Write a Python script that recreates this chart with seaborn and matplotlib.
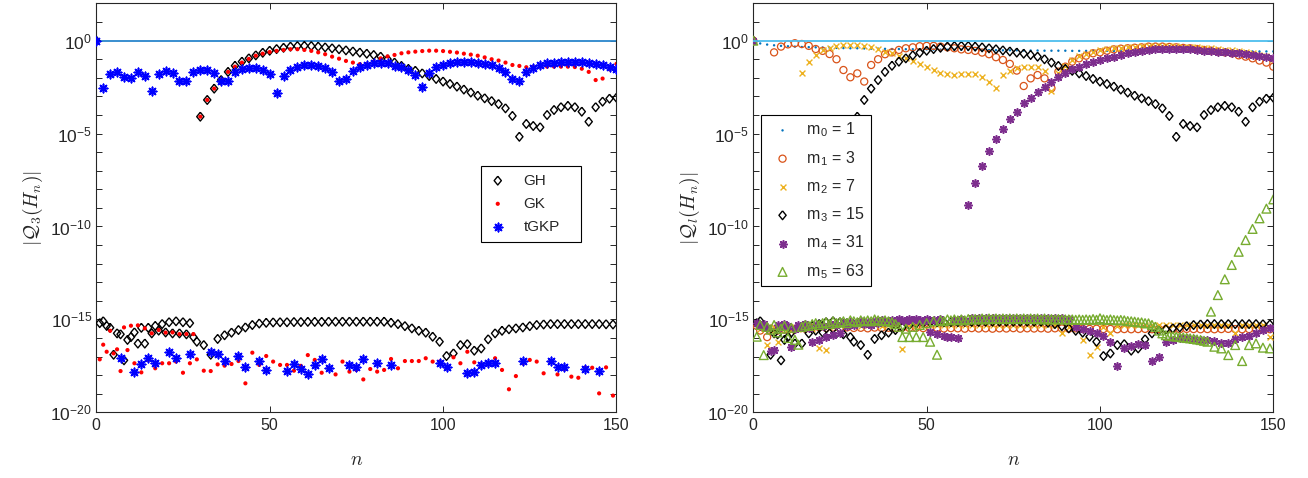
import numpy as np
import matplotlib
matplotlib.use("Agg")
import matplotlib.pyplot as plt
from matplotlib.ticker import FixedLocator, FuncFormatter, NullLocator
import seaborn as sns

nan = float("nan")

# ---------------------------------------------------------------
# log10 |Q(H_n)| for n = 0..150 (nan = exact zero, not drawable)
# ---------------------------------------------------------------
N = np.arange(151)

GH_LOG = [
    0.00, -15.20, -15.10, -15.35, -15.45, -16.90, -15.75, -15.80, -17.20, -16.10,
    -15.95, -15.70, -16.30, -15.45, -16.30, -15.45, -15.75, -15.35, -15.60, -15.25,
    -15.70, -15.15, -15.75, -15.10, -15.75, -15.15, -15.80, -15.20, -15.95, -16.20,
    -4.09, -16.38, -3.19, -16.90, -2.58, -16.05, -2.12, -15.85, -1.68, -15.71,
    -1.35, -15.57, -1.13, -15.43, -0.95, -15.30, -0.79, -15.22, -0.65, -15.18,
    -0.54, -15.16, -0.45, -15.15, -0.38, -15.15, -0.32, -15.14, -0.29, -15.14,
    -0.28, -15.13, -0.29, -15.13, -0.32, -15.13, -0.36, -15.12, -0.41, -15.12,
    -0.46, -15.12, -0.52, -15.12, -0.58, -15.12, -0.64, -15.12, -0.70, -15.12,
    -0.77, -15.12, -0.86, -15.12, -1.00, -15.18, -1.18, -15.25, -1.36, -15.36,
    -1.52, -15.48, -1.62, -15.61, -1.76, -15.71, -1.90, -15.93, -2.06, -16.20,
    -2.20, -16.97, -2.33, -16.83, -2.47, -16.38, -2.63, -16.33, -2.79, -16.68,
    -2.96, -16.56, -3.10, -16.07, -3.25, -15.75, -3.41, -15.61, -3.64, -15.53,
    -4.05, -15.48, -5.17, -15.43, -4.48, -15.36, -4.59, -15.30, -4.66, -15.27,
    -4.00, -15.25, -3.73, -15.25, -3.58, -15.25, -3.51, -15.25, -3.58, -15.25,
    -3.82, -15.25, -4.36, -15.25, -3.58, -15.25, -3.28, -15.26, -3.12, -15.27,
    -3.07]

GK_LOG = [
    0.00, -17.15, -16.36, -16.74, -15.61, -16.83, -16.61, -17.78, -15.43, -16.65,
    -15.34, -17.36, -15.32, -17.85, -15.48, -17.18, -15.75, -17.63, -15.57, -17.36,
    -15.71, -17.36, -15.70, -17.27, -15.79, -17.87, -15.79, -17.36, -15.79, -17.15,
    -4.09, -17.76, -3.19, -17.78, -2.58, -17.42, -2.11, -17.49, -1.68, -17.40,
    -1.40, -17.24, -1.18, -18.44, -0.98, -16.79, -0.81, -17.45, -0.70, -16.97,
    -0.61, -17.27, -0.55, -17.45, -0.50, -17.45, -0.46, -17.76, -0.46, -17.50,
    -0.50, -16.92, -0.55, -17.18, -0.63, -17.87, -0.73, -17.63, -0.86, -17.96,
    -0.97, -17.27, -1.09, -17.81, -1.18, -17.72, -1.26, -18.23, -1.27, -17.67,
    -1.15, -17.81, -0.95, -17.72, -0.85, -17.13, -0.77, -17.63, -0.68, -17.24,
    -0.63, -17.24, -0.59, -17.24, -0.56, -17.09, -0.54, -17.27, -0.54, -17.27,
    -0.56, -17.63, -0.60, -17.04, -0.64, -17.36, -0.70, -16.74, -0.75, -17.31,
    -0.81, -17.42, -0.90, -17.42, -1.00, -17.09, -1.07, -17.72, -1.18, -18.76,
    -1.31, -18.05, -1.36, -17.36, -1.43, -17.18, -1.42, -17.27, -1.40, -17.90,
    -1.40, -17.27, -1.40, -17.96, -1.40, -17.67, -1.40, -18.08, -1.42, -18.14,
    -1.51, -17.60, -1.68, -17.60, -2.12, -18.98, -2.04, -17.58, -1.54, -19.10,
    -1.25]

TGKP_LOG = [
    0.00, nan, -2.53, nan, -1.79, nan, -1.70, -17.09, -1.94, nan,
    -2.03, -17.81, -1.70, -17.40, -1.88, -17.06, -2.69, -17.36, -1.79, nan,
    -1.63, -16.77, -1.72, -17.09, -2.15, nan, -2.15, -16.88, -1.70, nan,
    -1.58, nan, -1.58, -16.77, -1.72, -16.88, -2.15, -17.24, -2.15, nan,
    -1.70, -16.95, -1.51, -17.54, -1.45, nan, -1.49, -17.24, -1.58, -17.72,
    -1.79, nan, -2.80, nan, -1.88, -17.76, -1.58, -17.40, -1.40, -17.69,
    -1.33, -17.94, -1.31, -17.45, -1.35, -17.15, -1.49, -17.63, -1.67, nan,
    -2.15, nan, -2.06, -17.45, -1.61, -17.54, -1.40, -17.15, -1.31, nan,
    -1.22, -17.36, -1.19, nan, -1.22, -17.45, -1.36, nan, -1.43, nan,
    -1.58, nan, -1.85, nan, -2.47, nan, -1.72, nan, -1.43, -17.36,
    -1.31, -17.58, -1.22, nan, -1.17, nan, -1.17, -17.87, -1.17, -17.81,
    -1.18, -17.45, -1.26, -17.36, -1.31, -17.33, -1.45, nan, -1.67, nan,
    -2.08, nan, -2.15, -17.24, -1.70, nan, -1.45, nan, -1.31, nan,
    -1.22, -17.22, -1.18, -17.54, -1.15, -17.54, -1.13, nan, -1.15, nan,
    -1.17, -17.67, -1.22, nan, -1.26, -17.76, -1.31, nan, -1.40, nan,
    -1.52]

# m0 = 1 node: only even n are non-zero
N_EVEN = np.arange(0, 151, 2)
M0_LOG = [
    0.00, -0.15, -0.21, -0.25, -0.28, -0.30, -0.32, -0.34, -0.35, -0.36,
    -0.37, -0.38, -0.39, -0.40, -0.41, -0.41, -0.42, -0.43, -0.43, -0.44,
    -0.45, -0.45, -0.46, -0.46, -0.47, -0.47, -0.48, -0.48, -0.49, -0.49,
    -0.49, -0.50, -0.50, -0.51, -0.51, -0.51, -0.52, -0.52, -0.52, -0.53,
    -0.53, -0.53, -0.54, -0.54, -0.54, -0.54, -0.55, -0.55, -0.55, -0.55,
    -0.55, -0.55, -0.56, -0.56, -0.56, -0.56, -0.56, -0.56, -0.56, -0.57,
    -0.57, -0.57, -0.57, -0.57, -0.57, -0.57, -0.57, -0.57, -0.58, -0.58,
    -0.58, -0.58, -0.58, -0.58, -0.58, -0.58]

M1_LOG = [
    0.00, -15.35, -15.60, -15.45, -15.95, -15.50, -0.63, -15.60, -0.32, -15.55,
    -0.20, -15.50, -0.14, -15.45, -0.18, -15.50, -0.28, -15.45, -0.45, -15.42,
    -0.55, -15.46, -0.72, -15.44, -1.00, -15.47, -1.58, -15.43, -1.97, -15.46,
    -1.76, -15.45, -2.20, -15.48, -1.31, -15.44, -1.00, -15.46, -0.73, -15.45,
    -0.63, -15.47, -0.50, -15.44, -0.41, -15.46, -0.36, -15.45, -0.30, -15.47,
    -0.28, -15.48, -0.28, -15.46, -0.32, -15.49, -0.36, -15.47, -0.41, -15.48,
    -0.47, -15.50, -0.50, -15.47, -0.55, -15.49, -0.64, -15.48, -0.73, -15.50,
    -0.89, -15.48, -1.04, -15.49, -1.25, -15.47, -1.61, -15.50, -2.44, -15.48,
    -2.03, -15.49, -1.85, -15.48, -2.03, -15.50, -2.56, -15.48, -1.67, -15.49,
    -1.40, -15.50, -1.13, -15.48, -0.95, -15.50, -0.81, -15.51, -0.68, -15.50,
    -0.63, -15.52, -0.54, -15.51, -0.47, -15.53, -0.43, -15.52, -0.41, -15.53,
    -0.38, -15.52, -0.36, -15.51, -0.32, -15.53, -0.32, -15.52, -0.32, -15.53,
    -0.34, -15.52, -0.36, -15.53, -0.39, -15.51, -0.41, -15.52, -0.45, -15.53,
    -0.50, -15.52, -0.54, -15.53, -0.59, -15.52, -0.63, -15.51, -0.68, -15.52,
    -0.79, -15.53, -0.86, -15.52, -0.95, -15.53, -1.07, -15.52, -1.18, -15.53,
    -1.40]

M2_LOG = [
    0.00, -15.20, -15.50, -15.40, -16.38, -15.60, -15.40, -16.20, -15.35, -15.50,
    -15.45, -15.60, -15.40, -15.50, -1.76, -15.30, -1.16, -15.50, -0.77, -16.52,
    -0.50, -16.65, -0.38, -15.40, -0.28, -15.30, -0.23, -15.35, -0.23, -15.30,
    -0.23, -15.35, -0.27, -15.30, -0.36, -15.30, -0.47, -15.35, -0.59, -15.30,
    -0.68, -15.30, -0.80, -16.60, -0.92, -15.30, -1.07, -15.35, -1.25, -15.30,
    -1.43, -15.30, -1.58, -15.30, -1.72, -15.30, -1.81, -15.30, -1.86, -15.30,
    -1.81, -15.30, -1.81, -15.30, -1.81, -15.30, -1.94, -15.30, -2.24, -15.30,
    -2.53, -15.30, -1.85, -15.30, -1.61, -15.30, -1.49, -15.30, -1.40, -15.30,
    -1.40, -15.30, -1.43, -15.30, -1.61, -15.30, -2.69, -15.30, -1.75, -15.75,
    -1.35, -15.40, -1.05, -15.45, -0.85, -16.10, -0.70, -16.90, -0.60, -16.47,
    -0.52, -15.40, -0.45, -15.75, -0.40, -15.35, -0.37, -15.30, -0.34, -15.30,
    -0.32, -15.30, -0.30, -15.30, -0.29, -15.30, -0.28, -15.30, -0.28, -15.30,
    -0.29, -15.30, -0.30, -15.30, -0.32, -15.30, -0.34, -15.30, -0.36, -15.30,
    -0.39, -15.30, -0.42, -15.30, -0.45, -15.30, -0.48, -15.30, -0.52, -15.75,
    -0.57, -15.30, -0.62, -15.30, -0.68, -15.30, -0.75, -15.30, -0.85, -15.93,
    -1.00]

M4_LOG = [
    0.00, -15.20, -15.35, -15.25, -15.45, -16.72, -16.65, -15.30, -15.40, -15.25,
    -15.35, -16.47, -15.50, -15.30, -15.40, -15.25, -15.45, -16.20, -15.30, -16.11,
    -15.35, -15.96, -15.25, -15.84, -15.30, -15.75, -15.20, -15.35, -15.15, -15.30,
    -15.20, -15.10, -15.25, -15.15, -15.30, -15.10, -15.20, -15.05, -15.15, -15.10,
    -15.05, -15.10, -15.00, -15.05, -15.10, -15.00, -15.05, -15.00, -15.05, -15.10,
    -15.00, -15.69, -15.05, -15.80, -15.00, -15.89, -15.93, -15.97, -15.05, -16.02,
    -15.00, -15.10, -8.84, -14.95, -7.64, -14.95, -6.73, -14.95, -5.94, -14.95,
    -5.31, -14.95, -4.74, -14.92, -4.23, -14.92, -3.82, -14.92, -3.35, -14.92,
    -3.07, -14.92, -2.74, -14.92, -2.47, -14.92, -2.21, -14.92, -1.97, -14.95,
    -1.76, -15.00, -1.54, -15.40, -1.40, -15.50, -1.25, -15.60, -1.13, -15.75,
    -1.04, -15.88, -0.93, -16.20, -0.86, -17.49, -0.75, -16.52, -0.68, -16.41,
    -0.63, -16.30, -0.55, -16.38, -0.50, -17.24, -0.46, -17.00, -0.45, -16.24,
    -0.45, -16.10, -0.45, -15.99, -0.46, -16.00, -0.46, -16.05, -0.50, -16.10,
    -0.54, -16.11, -0.55, -16.16, -0.59, -16.29, -0.63, -16.29, -0.64, -16.06,
    -0.68, -15.97, -0.72, -15.88, -0.75, -15.75, -0.81, -15.57, -0.86, -15.44,
    -0.91]

M5_LOG = [
    0.00, -15.93, -15.30, -16.92, -15.40, -15.55, -15.30, -15.70, -15.50, -15.35,
    -16.00, -15.45, -16.10, -16.36, -15.40, -15.30, -15.35, -15.25, -15.20, -15.30,
    -15.20, -15.15, -15.25, -15.10, -15.20, -15.15, -15.10, -15.20, -15.05, -15.10,
    -15.15, -15.05, -15.10, -15.05, -15.10, -15.00, -15.05, -15.10, -15.05, -15.10,
    -15.15, -15.25, -15.40, -15.95, -15.50, -15.95, -15.40, -15.95, -15.30, -15.95,
    -15.20, -16.20, -15.10, -16.90, -15.05, -15.10, -15.00, -15.05, -15.00, -15.05,
    -15.00, -15.05, -14.98, -15.00, -14.98, -15.00, -14.95, -15.00, -14.95, -14.98,
    -14.95, -14.98, -14.95, -14.98, -14.95, -14.98, -14.95, -14.98, -14.95, -14.98,
    -14.95, -14.98, -14.95, -15.00, -14.95, -15.00, -14.98, -15.00, -14.98, -15.00,
    -15.00, -15.00, -15.00, -15.02, -15.00, -15.02, -15.00, -15.02, -14.98, -15.02,
    -14.94, -15.00, -15.03, -15.00, -15.03, -15.05, -15.03, -15.05, -15.09, -15.10,
    -15.12, -15.15, -15.16, -15.20, -15.21, -15.30, -15.40, -15.60, -15.75, -15.85,
    -15.88, -15.90, -15.93, -15.95, -15.97, -16.00, -16.02, -16.05, -16.08, -16.11,
    -16.15, -16.20, -14.58, -16.47, -13.69, -16.56, -12.84, -16.92, -12.07, -16.38,
    -11.36, -17.24, -10.73, -16.38, -10.13, -16.29, -9.56, -16.52, -9.04, -16.56,
    -8.54]

LEFT_LABELS = ["GH", "GK", "tGKP"]
RIGHT_LABELS = [r"m$_{\mathregular{%d}}$ = %d" % (i, m)
                for i, m in enumerate([1, 3, 7, 15, 31, 63])]
Y_DECADES = list(range(-20, 3))
Y_LABELLED = [-20, -15, -10, -5, 0]
X_TICKS = [0, 50, 100, 150]

# ---------------------------------------------------------------
sns.set_style("ticks")
plt.rcParams.update({
    "font.family": ["Liberation Sans", "DejaVu Sans"],
    "mathtext.fontset": "cm",
    "axes.unicode_minus": False,
    "xtick.direction": "in",
    "ytick.direction": "in",
    "xtick.top": True,
    "ytick.right": True,
    "axes.edgecolor": "#262626",
    "axes.linewidth": 0.8,
    "xtick.color": "#262626",
    "ytick.color": "#262626",
})

INK = "#262626"
C_BLUE, C_ORANGE, C_YELLOW = "#0072BD", "#D95319", "#EDB120"
C_PURPLE, C_GREEN, C_CYAN = "#7E2F8E", "#77AC30", "#4DBEEE"

DIAMOND = [(0, 1), (0.82, 0), (0, -1), (-0.82, 0), (0, 1)]
ASTERISK = (8, 2, 0)


def draw(ax, n, logv, **kw):
    vals = np.power(10.0, np.asarray(logv, dtype=float))
    sns.scatterplot(x=n, y=vals, ax=ax, legend=False, **kw)


def style_axes(ax):
    ax.set_yscale("log")
    ax.set_xlim(0, 150)
    ax.set_ylim(1e-20, 1e2)
    ax.yaxis.set_major_locator(FixedLocator([10.0 ** k for k in Y_DECADES]))
    ax.yaxis.set_minor_locator(NullLocator())
    ax.yaxis.set_major_formatter(FuncFormatter(
        lambda v, p: (r"$\mathregular{10^{%d}}$" % round(np.log10(v)))
        if round(np.log10(v)) in Y_LABELLED else ""))
    ax.xaxis.set_major_locator(FixedLocator(X_TICKS))
    ax.xaxis.set_minor_locator(NullLocator())
    ax.tick_params(which="both", length=4.5, width=0.7, labelsize=11.5,
                   labelcolor=INK, top=True, right=True, pad=4)
    ax.tick_params(axis="y", labelsize=12.5, pad=3)
    for s in ax.spines.values():
        s.set_visible(True)
        s.set_color(INK)
        s.set_linewidth(0.8)
    ax.set_xlabel(r"$n$", fontsize=14, color=INK, labelpad=14)


fig = plt.figure(figsize=(13.08, 4.78), dpi=100)
fig.patch.set_facecolor("white")
ax1 = fig.add_axes([0.0736, 0.1374, 0.3977, 0.8553])
ax2 = fig.add_axes([0.5759, 0.1374, 0.3976, 0.8553])

# ---- left panel: GH / GK / tGKP ----
ax1.axhline(1.0, color="#2a86cc", lw=1.3, zorder=1)
draw(ax1, N, GH_LOG, marker=DIAMOND, s=40, color="k", facecolor="none",
     edgecolor="k", linewidth=1.0, label=LEFT_LABELS[0], zorder=3)
draw(ax1, N, GK_LOG, marker="o", s=9, color="red", edgecolor="none",
     linewidth=0, label=LEFT_LABELS[1], zorder=4)
draw(ax1, N, TGKP_LOG, marker=ASTERISK, s=36, color="blue",
     linewidth=1.2, label=LEFT_LABELS[2], zorder=5)
style_axes(ax1)
ax1.set_ylabel(r"$|\mathcal{Q}_3(H_n)|$", fontsize=14, color=INK, labelpad=4)
leg1 = ax1.legend(loc="upper left", bbox_to_anchor=(0.7395, 0.414, 0.1922, 0.1885),
                  mode="expand", borderaxespad=0, fontsize=11, frameon=True,
                  fancybox=False, edgecolor="k", framealpha=1, borderpad=0.5,
                  handlelength=1.2, handletextpad=1.1, labelspacing=0.6,
                  scatterpoints=1)
leg1.get_frame().set_linewidth(0.8)

# ---- right panel: nested rules m_0 ... m_5 ----
draw(ax2, N_EVEN, M0_LOG, marker="o", s=3, color=C_BLUE, edgecolor="none",
     linewidth=0, label=RIGHT_LABELS[0], zorder=3)
draw(ax2, N, M1_LOG, marker="o", s=26, color=C_ORANGE, facecolor="none",
     edgecolor=C_ORANGE, linewidth=0.9, label=RIGHT_LABELS[1], zorder=3)
draw(ax2, N, M2_LOG, marker="x", s=18, color=C_YELLOW, linewidth=1.0,
     label=RIGHT_LABELS[2], zorder=3)
draw(ax2, N, GH_LOG, marker=DIAMOND, s=40, color="k", facecolor="none",
     edgecolor="k", linewidth=1.0, label=RIGHT_LABELS[3], zorder=3)
draw(ax2, N, M4_LOG, marker=ASTERISK, s=28, color=C_PURPLE, linewidth=1.2,
     label=RIGHT_LABELS[4], zorder=3)
draw(ax2, N, M5_LOG, marker="^", s=40, color=C_GREEN, facecolor="none",
     edgecolor=C_GREEN, linewidth=1.0, label=RIGHT_LABELS[5], zorder=3)
ax2.axhline(1.0, color=C_CYAN, lw=1.3, zorder=4)
style_axes(ax2)
ax2.set_ylabel(r"$|\mathcal{Q}_l(H_n)|$", fontsize=14, color=INK, labelpad=4)
leg2 = ax2.legend(loc="upper left", bbox_to_anchor=(0.0148, 0.7273),
                  borderaxespad=0, fontsize=11.5, frameon=True, fancybox=False,
                  edgecolor="k", framealpha=1, borderpad=0.35,
                  handlelength=2.0, handletextpad=0.5, labelspacing=0.6,
                  scatterpoints=1)
leg2.get_frame().set_linewidth(0.8)

fig.savefig("out.png", dpi=100, facecolor="white")
